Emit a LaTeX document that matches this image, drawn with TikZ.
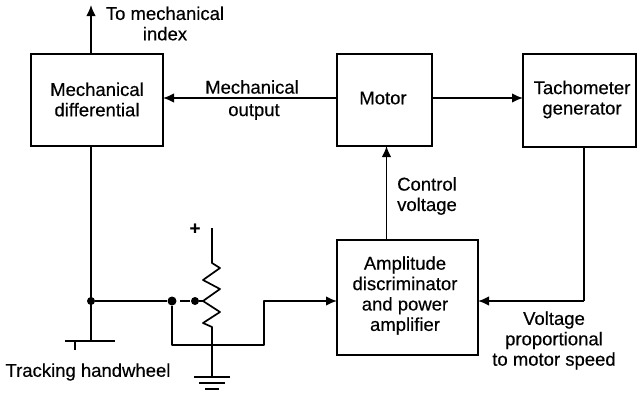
\documentclass[tikz,border=0pt]{standalone}
\usepackage{fontspec}
\setmainfont[FakeBold=0.35]{Liberation Sans}
\usetikzlibrary{arrows.meta}
\begin{document}
\begin{tikzpicture}[x=1pt,y=-1pt,
  block/.style={draw,line width=1.7pt,minimum width=0pt,inner sep=0pt},
  wire/.style={line width=1.7pt,line join=round},
  flow/.style={wire,-{Latex[length=11pt,width=9.5pt]}},
  lbl/.style={inner sep=0pt,align=center,font=\fontsize{18.5}{20.4}\selectfont},
  dot/.style={circle,fill=black,inner sep=0pt,minimum size=8pt}]
\useasboundingbox (0,0) rectangle (638,392);
\node[block,minimum width=132pt,minimum height=92pt] (diff) at (97,100) {};
\node[block,minimum width=95pt,minimum height=92pt] (motor) at (384.5,100) {};
\node[block,minimum width=113pt,minimum height=93pt] (tach) at (579.5,100.5) {};
\node[block,minimum width=141pt,minimum height=115pt] (amp) at (407.5,297.5) {};
\node[lbl] (tdiff) at (97,99.5) {Mechanical\\differential};
\node[lbl] (tmotor) at (383,98) {Motor};
\node[lbl] (ttach) at (582,99.5) {Tachometer\\generator};
\node[lbl] (tamp) at (405,295.5) {Amplitude\\discriminator\\and power\\amplifier};
\node[lbl] (tindex) at (165,23.5) {To mechanical\\index};
\node[lbl] (tm1) at (252,87) {Mechanical};
\node[lbl] (tm2) at (254,112) {output};
\node[lbl] (tctl) at (427,196) {Control\\voltage};
\node[lbl] (tprop) at (554,340.5) {Voltage\\proportional\\to motor speed};
\node[lbl] (thand) at (88,372) {Tracking handwheel};
\node[lbl,font=\bfseries\fontsize{18}{18}\selectfont] (tplus) at (195,229) {+};
\coordinate (up) at (91,5);
\coordinate (diffb) at (91,146);
\coordinate (difft) at (91,54);
\coordinate (motl) at (337,98);
\coordinate (difr) at (163,98);
\coordinate (motr) at (432,98);
\coordinate (tachl) at (523,98);
\coordinate (ampt) at (386.5,240);
\coordinate (motb) at (386.5,146);
\coordinate (tachb) at (584,147);
\coordinate (tc) at (584,301);
\coordinate (ampr) at (478,301);
\coordinate (ampl) at (337,301);
\coordinate (wheel) at (91,341);
\coordinate (wl) at (65,341);
\coordinate (wr) at (115,341);
\coordinate (ws1) at (75,341);
\coordinate (ws2) at (75,350);
\node[dot] (j1) at (91,301) {};
\node[dot,minimum size=9pt] (j2) at (172,301) {};
\node[dot] (j3) at (195,301) {};
\coordinate (da) at (180,301);
\coordinate (db) at (190,301);
\coordinate (wiper) at (203,301);
\coordinate (pt) at (212,228);
\coordinate (p0) at (212,263);
\coordinate (pb) at (212,327);
\coordinate (g) at (212,377);
\coordinate (c1) at (172,345);
\coordinate (c2) at (264,345);
\coordinate (c3) at (264,301);
\draw[flow] (difft) -- (up);
\draw[flow] (motl) -- (difr);
\draw[flow] (motr) -- (tachl);
\draw[flow] (ampt) -- (motb);
\draw[wire] (tachb) -- (tc);
\draw[flow] (tc) -- (ampr);
\draw[wire] (diffb) -- (wheel);
\draw[line width=1.7pt] (wl) -- (wr);
\draw[line width=2.6pt] (ws1) -- (ws2);
\draw[wire] (j1) -- (j2);
\draw[wire] (da) -- (db);
\draw[wire] (j3) -- (wiper);
\draw[flow] (j2) -- (c1) -- (c2) -- (c3) -- (ampl);
\draw[wire] (pt) -- (p0) -- (220,268) -- (203,280) -- (220,289) -- (wiper) -- (220,312) -- (203,323) -- (pb) -- (g);
\draw[line width=1.7pt] (194,377) -- (230,377);
\draw[line width=1.7pt] (199,383) -- (225,383);
\draw[line width=1.7pt] (205,389) -- (219,389);
\end{tikzpicture}
\end{document}
